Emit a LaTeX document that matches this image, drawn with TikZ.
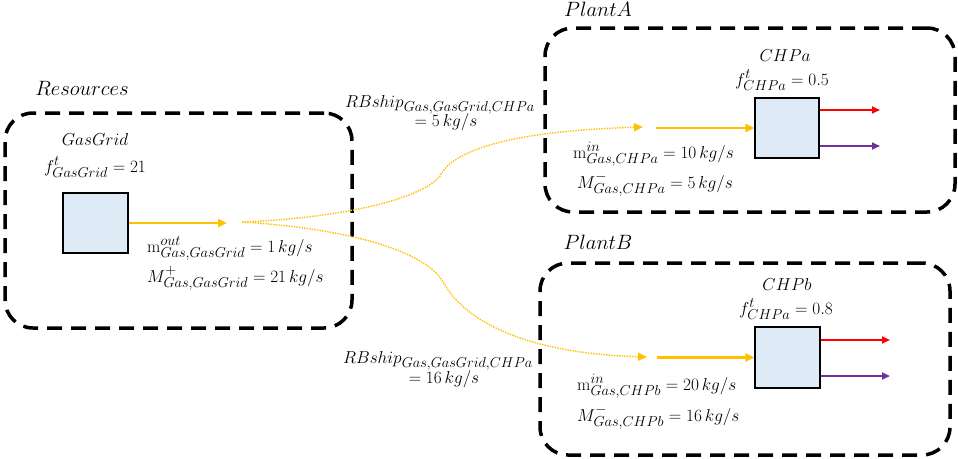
\documentclass[tikz,border=0pt]{standalone}
\usetikzlibrary{arrows.meta}
\definecolor{gold}{HTML}{FFC000}
\definecolor{boxfill}{HTML}{DEEBF7}
\definecolor{purp}{HTML}{7030A0}
\definecolor{hot}{HTML}{FF0000}
\begin{document}
\begin{tikzpicture}[x=1pt,y=-1pt,
  group/.style={draw=black, line width=3.5pt, dash pattern=on 15pt off 9pt, rounded corners=28pt, inner sep=0pt},
  unit/.style={draw=black, line width=1.3pt, fill=boxfill, inner sep=0pt},
  lbl/.style={font=\fontsize{19}{22}\selectfont, inner sep=0pt},
  glbl/.style={font=\fontsize{20}{23}\selectfont, inner sep=0pt},
  flow/.style={draw=gold, line width=2.6pt, -{Triangle[length=9pt,width=8pt]}},
  ship/.style={draw=gold, line width=1.4pt, dash pattern=on 1.4pt off 1.2pt, -{Triangle[length=9pt,width=8pt]}},
  heat/.style={draw=hot, line width=2.2pt, -{Triangle[length=8pt,width=7pt]}},
  power/.style={draw=purp, line width=2.2pt, -{Triangle[length=8pt,width=7pt]}}
]
\path[fill=white] (0,0) rectangle (958,458);
\useasboundingbox (0,0) rectangle (958,458);

% groups
\node[group, minimum width=347pt, minimum height=215pt] (res) at (178.5,220.5) {};
\node[group, minimum width=410pt, minimum height=184pt] (pla) at (750,120) {};
\node[group, minimum width=410pt, minimum height=192pt] (plb) at (745,359) {};

% units
\node[unit, minimum width=65pt, minimum height=60pt] (gg) at (95.5,223) {};
\node[unit, minimum width=64pt, minimum height=60pt] (chpa) at (787,128) {};
\node[unit, minimum width=65pt, minimum height=61pt] (chpb) at (787.5,357.5) {};

% labels
\node[glbl, anchor=base] (tres) at (82,95) {$Resources$};
\node[lbl, anchor=base] (tgg) at (95,145) {$GasGrid$};
\node[lbl, anchor=base] (fgg) at (95,172) {$f^{t}_{GasGrid} = 21$};
\node[lbl, anchor=base west] (mout) at (147,252) {$\mathrm{m}^{out}_{Gas,GasGrid} = 1\,kg/s$};
\node[lbl, anchor=base west] (mplus) at (147,282) {$M^{+}_{Gas,GasGrid} = 21\,kg/s$};

\node[glbl, anchor=base] (tpla) at (598,16) {$PlantA$};
\node[lbl, anchor=base] (tchpa) at (785,61) {$CHPa$};
\node[lbl, anchor=base] (fchpa) at (782,85) {$f^{t}_{CHPa} = 0.5$};
\node[lbl, anchor=base west] (mina) at (573,158) {$\mathrm{m}^{in}_{Gas,CHPa} = 10\,kg/s$};
\node[lbl, anchor=base west] (mmina) at (577,188) {$M^{-}_{Gas,CHPa} = 5\,kg/s$};

\node[glbl, anchor=base] (tplb) at (598,249) {$PlantB$};
\node[lbl, anchor=base] (tchpb) at (787,290) {$CHPb$};
\node[lbl, anchor=base] (fchpb) at (786,314) {$f^{t}_{CHPa} = 0.8$};
\node[lbl, anchor=base west] (minb) at (577,390) {$\mathrm{m}^{in}_{Gas,CHPb} = 20\,kg/s$};
\node[lbl, anchor=base west] (mminb) at (577,421) {$M^{-}_{Gas,CHPb} = 16\,kg/s$};

\node[lbl, anchor=base east] (rba1) at (535,107) {$RBship_{Gas,GasGrid,CHPa}$};
\node[lbl, anchor=base] (rba2) at (446,126) {$= 5\,kg/s$};
\node[lbl, anchor=base east] (rbb1) at (533,363) {$RBship_{Gas,GasGrid,CHPa}$};
\node[lbl, anchor=base] (rbb2) at (444,383) {$= 16\,kg/s$};

% connector coordinates
\coordinate (ggout) at (227,223);
\coordinate (split) at (242,222);
\coordinate (sa) at (643,127);
\coordinate (sb) at (647,357);
\coordinate (ina) at (656,128);
\coordinate (inb) at (657,357.5);
\coordinate (ha) at (880,110);
\coordinate (pa) at (880,146);
\coordinate (hb) at (890,340);
\coordinate (pb) at (890,376);

% flows
\draw[flow] (gg.east) -- (ggout);
\draw[ship] (split) .. controls (340,218) and (420,200) .. (440,176)
  .. controls (448,160) and (480,132) .. (sa);
\draw[ship] (split) .. controls (340,228) and (420,248) .. (442,280)
  .. controls (452,300) and (490,352) .. (sb);
\draw[flow] (ina) -- (chpa.west);
\draw[flow] (inb) -- (chpb.west);
\draw[heat] (chpa.east |- ha) -- (ha);
\draw[power] (chpa.east |- pa) -- (pa);
\draw[heat] (chpb.east |- hb) -- (hb);
\draw[power] (chpb.east |- pb) -- (pb);
\end{tikzpicture}
\end{document}
